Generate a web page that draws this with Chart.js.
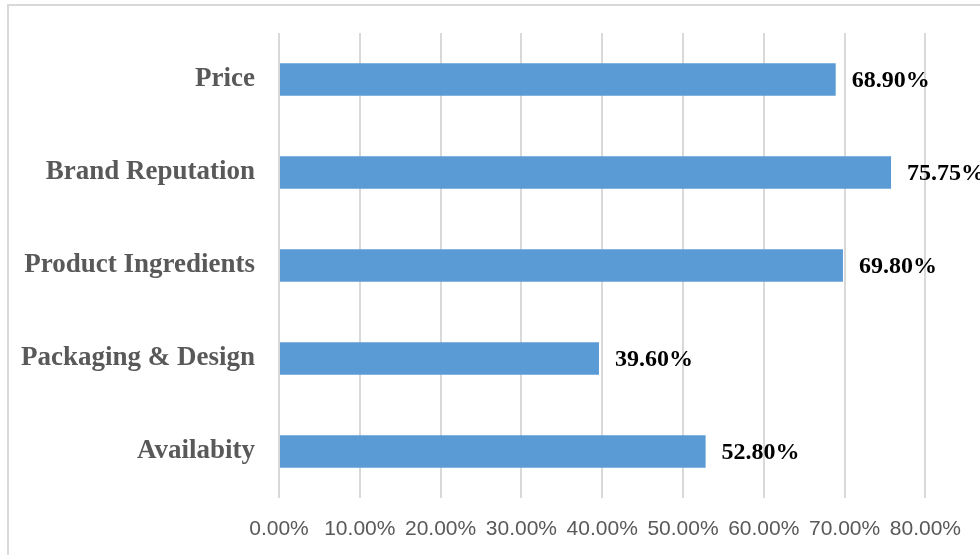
<!DOCTYPE html>
<html lang="en">
<head>
  <meta charset="UTF-8" />
  <title>Purchase factors</title>
  <script src="https://cdn.jsdelivr.net/npm/chart.js"></script>
  <style>
    html, body {
      margin: 0;
      padding: 0;
      background: #ffffff;
      overflow: hidden;
    }
    #wrap {
      width: 980px;
      height: 555px;
    }
  </style>
</head>
<body>
  <div id="wrap">
    <canvas id="barChart" width="980" height="555"></canvas>
  </div>

  <script>
    // data
    const categories = ['Price', 'Brand Reputation', 'Product Ingredients', 'Packaging & Design', 'Availabity'];
    const values = [68.90, 75.75, 69.80, 39.60, 52.80];
    const tickValues = [0, 10, 20, 30, 40, 50, 60, 70, 80];

    // outer frame + value labels, drawn by hand (no datalabels plugin offline)
    const framePlugin = {
      id: 'frame',
      beforeDraw(chart) {
        const c = chart.ctx;
        c.save();
        c.strokeStyle = '#d9d9d9';
        c.lineWidth = 2;
        c.strokeRect(8, 5, 1000, 600);
        c.restore();
      }
    };

    const valueLabels = {
      id: 'valueLabels',
      afterDatasetsDraw(chart) {
        const c = chart.ctx;
        const meta = chart.getDatasetMeta(0);
        c.save();
        c.font = 'bold 24px "Liberation Serif", "Times New Roman", serif';
        c.fillStyle = '#000000';
        c.textAlign = 'left';
        c.textBaseline = 'middle';
        meta.data.forEach((bar, i) => {
          c.fillText(values[i].toFixed(2) + '%', bar.x + 16, bar.y + 1);
        });
        c.restore();
      }
    };

    const ctx = document.getElementById('barChart').getContext('2d');
    const chart = new Chart(ctx, {
      type: 'bar',
      data: {
        labels: categories,
        datasets: [{
          data: values,
          backgroundColor: '#5b9bd5',
          borderWidth: 0,
          barPercentage: 0.35,
          categoryPercentage: 1.0
        }]
      },
      options: {
        indexAxis: 'y',
        responsive: false,
        animation: false,
        layout: {
          padding: { top: 33, right: 53, left: 0, bottom: 0 }
        },
        plugins: {
          legend: { display: false },
          tooltip: { enabled: false }
        },
        scales: {
          x: {
            min: 0,
            max: 80,
            afterBuildTicks(scale) {
              scale.ticks = tickValues.map(v => ({ value: v }));
            },
            afterFit(scale) {
              scale.height = 57;
            },
            grid: {
              color: '#d9d9d9',
              lineWidth: 2,
              drawTicks: false
            },
            border: { display: false },
            ticks: {
              padding: 19,
              color: '#595959',
              font: { family: '"Liberation Sans", Arial, sans-serif', size: 21 },
              callback: v => v.toFixed(2) + '%'
            }
          },
          y: {
            afterFit(scale) {
              scale.width = 279;
              // the label padding must not push the plot down
              scale.paddingTop = 0;
              scale.paddingBottom = 0;
            },
            grid: { display: false, drawTicks: false },
            border: { display: false },
            ticks: {
              padding: 24,
              color: '#595959',
              font: { family: '"Liberation Serif", "Times New Roman", serif', size: 27, weight: 'bold' }
            }
          }
        }
      },
      plugins: [framePlugin, valueLabels]
    });
  </script>
</body>
</html>
